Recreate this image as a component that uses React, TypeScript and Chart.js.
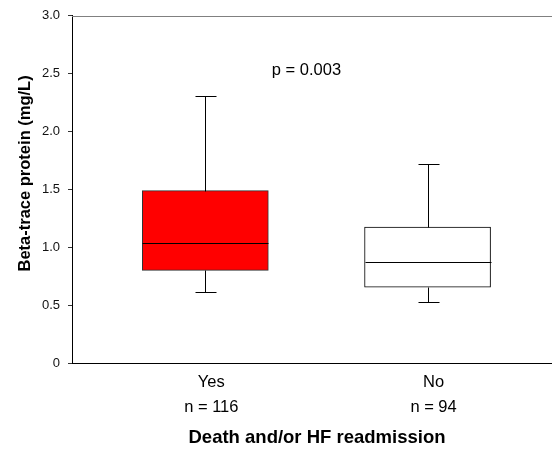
import React, { useEffect, useRef } from 'react';
import { Chart, registerables } from 'chart.js';

Chart.register(...registerables);

// ---- Data ----
const categories = ['Yes', 'No'];
const counts = [116, 94];
const positions = [1, 2];
const whiskerLow = [0.61, 0.53];
const q1 = [0.8, 0.655];
const median = [1.04, 0.87];
const q3 = [1.49, 1.175];
const whiskerHigh = [2.31, 1.72];
const yTicks = [0, 0.5, 1.0, 1.5, 2.0, 2.5, 3.0];
const boxFill = ['#ff0000', '#ffffff'];
const boxBorder = ['#333333', '#000000'];
const pValueText = 'p = 0.003';
const pValueAt = { x: 1.455, y: 2.53 };
const yTitle = 'Beta-trace protein (mg/L)';
const xTitle = 'Death and/or HF readmission';

const FONT = '"Liberation Sans", Arial, sans-serif';

const extrasPlugin = {
  id: 'boxExtras',
  afterDatasetsDraw(chart: any) {
    const { ctx, chartArea } = chart;
    const x = chart.scales.x;
    const y = chart.scales.y;
    const meta = chart.getDatasetMeta(0);
    ctx.save();
    ctx.lineWidth = 1;
    ctx.strokeStyle = '#000000';
    const cap = 10;
    positions.forEach((p, i) => {
      const cx = Math.round(x.getPixelForValue(p)) + 0.5;
      const py = (v: number) => Math.round(y.getPixelForValue(v)) + 0.5;
      const el = meta.data[i];
      const half = el ? el.width / 2 : 63;
      ctx.beginPath();
      // upper whisker
      ctx.moveTo(cx, py(q3[i]));
      ctx.lineTo(cx, py(whiskerHigh[i]));
      ctx.moveTo(cx - cap, py(whiskerHigh[i]));
      ctx.lineTo(cx + cap + 1, py(whiskerHigh[i]));
      // lower whisker
      ctx.moveTo(cx, py(q1[i]));
      ctx.lineTo(cx, py(whiskerLow[i]));
      ctx.moveTo(cx - cap, py(whiskerLow[i]));
      ctx.lineTo(cx + cap + 1, py(whiskerLow[i]));
      // median
      ctx.moveTo(cx - half, py(median[i]));
      ctx.lineTo(cx + half, py(median[i]));
      ctx.stroke();
    });
    // top frame line
    ctx.strokeStyle = '#808080';
    ctx.beginPath();
    ctx.moveTo(chartArea.left, Math.round(chartArea.top) + 0.5);
    ctx.lineTo(chartArea.right, Math.round(chartArea.top) + 0.5);
    ctx.stroke();
    // p-value
    ctx.fillStyle = '#000000';
    ctx.font = `16.5px ${FONT}`;
    ctx.textAlign = 'center';
    ctx.textBaseline = 'middle';
    ctx.fillText(pValueText, x.getPixelForValue(pValueAt.x), y.getPixelForValue(pValueAt.y));
    // x title
    ctx.font = `bold 18.5px ${FONT}`;
    ctx.fillText(xTitle, (chartArea.left + chartArea.right) / 2 + 5, chartArea.bottom + 75);
    // y title
    ctx.font = `bold 16.5px ${FONT}`;
    ctx.translate(25, (chartArea.top + chartArea.bottom) / 2 - 16);
    ctx.rotate(-Math.PI / 2);
    ctx.fillText(yTitle, 0, 0);
    ctx.restore();
  },
};

export default function App() {
  const canvasRef = useRef<HTMLCanvasElement | null>(null);

  useEffect(() => {
    document.body.style.margin = '0';
    const canvas = canvasRef.current;
    if (!canvas) return;
    const chart = new Chart(canvas, {
      type: 'bar',
      data: {
        datasets: [
          {
            data: positions.map((p, i) => ({ x: p, y: [q1[i], q3[i]] })) as any,
            backgroundColor: boxFill,
            borderColor: boxBorder,
            borderWidth: 1,
            borderSkipped: false,
            barThickness: 126,
          },
        ],
      },
      options: {
        responsive: false,
        animation: false,
        events: [],
        layout: { padding: { top: 12, right: 0, left: 0, bottom: 0 } },
        plugins: { legend: { display: false }, tooltip: { enabled: false }, title: { display: false } },
        scales: {
          x: {
            type: 'linear',
            min: 0.4,
            max: 2.56,
            offset: false,
            bounds: 'ticks',
            grid: { display: false, drawTicks: false, offset: false },
            border: { display: true, color: '#000000', width: 1 },
            afterFit: (s: any) => {
              s.height = 89;
            },
            afterBuildTicks: (s: any) => {
              s.ticks = positions.map((p) => ({ value: p }));
            },
            ticks: {
              padding: 7,
              labelOffset: 6,
              color: '#000000',
              font: { family: FONT, size: 16.5, lineHeight: 1.52 },
              maxRotation: 0,
              autoSkip: false,
              callback: (v: any) => {
                const i = positions.indexOf(Number(v));
                return i >= 0 ? [categories[i], `n = ${counts[i]}`] : '';
              },
            },
          },
          y: {
            type: 'linear',
            min: 0,
            max: 3,
            afterFit: (s: any) => {
              s.width = 72;
            },
            afterBuildTicks: (s: any) => {
              s.ticks = yTicks.map((v) => ({ value: v }));
            },
            grid: { display: true, drawOnChartArea: false, drawTicks: true, tickLength: 4, color: '#333333' },
            border: { display: true, color: '#000000', width: 1 },
            ticks: {
              padding: 8,
              color: '#111111',
              font: { family: FONT, size: 13 },
              callback: (v: any) => (Number(v) === 0 ? '0' : Number(v).toFixed(1)),
            },
          },
        },
      },
      plugins: [extrasPlugin],
    });
    return () => chart.destroy();
  }, []);

  return (
    <div style={{ width: 552, height: 452 }}>
      <canvas ref={canvasRef} width={552} height={452} style={{ display: 'block' }} />
    </div>
  );
}
